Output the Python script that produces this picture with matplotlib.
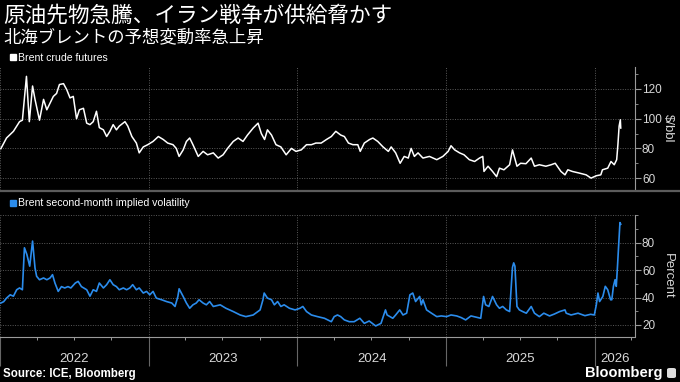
import matplotlib
matplotlib.use('Agg')
import matplotlib.pyplot as plt
import matplotlib.dates as mdates
import matplotlib.transforms as mtransforms
import pandas as pd
from matplotlib.lines import Line2D
from matplotlib.patches import FancyBboxPatch
from matplotlib.ticker import FixedLocator

plt.rcParams['font.family'] = ['Liberation Sans', 'DejaVu Sans']

title = '原油先物急騰、イラン戦争が供給脅かす'
subtitle = '北海ブレントの予想変動率急上昇'
price_label = 'Brent crude futures'
vol_label = 'Brent second-month implied volatility'
source = 'Source: ICE, Bloomberg'
years = ['2022', '2023', '2024', '2025', '2026']
price_ticks = [60, 80, 100, 120]
price_minor = [70, 90, 110, 130]
vol_ticks = [20, 40, 60, 80]
vol_minor = [30, 50, 70, 90, 100]

# Brent crude futures, $/bbl
price_dates = [
    '2022-01-03', '2022-01-17', '2022-02-03', '2022-02-18', '2022-02-25', '2022-03-07', '2022-03-14',
    '2022-03-22', '2022-03-28', '2022-04-08', '2022-04-18', '2022-04-26', '2022-05-04', '2022-05-12',
    '2022-05-20', '2022-05-27', '2022-06-06', '2022-06-14', '2022-06-22', '2022-06-30', '2022-07-08',
    '2022-07-15', '2022-07-25', '2022-08-02', '2022-08-10', '2022-08-18', '2022-08-26', '2022-09-02',
    '2022-09-12', '2022-09-20', '2022-09-28', '2022-10-06', '2022-10-14', '2022-10-21', '2022-11-04',
    '2022-11-11', '2022-11-21', '2022-12-02', '2022-12-09', '2022-12-19', '2022-12-30',
    '2023-01-12', '2023-01-25', '2023-02-06', '2023-02-17', '2023-03-02', '2023-03-10', '2023-03-17',
    '2023-03-27', '2023-04-04', '2023-04-12', '2023-04-20', '2023-05-03', '2023-05-15', '2023-05-26',
    '2023-06-09', '2023-06-21', '2023-07-03', '2023-07-14', '2023-07-28', '2023-08-09', '2023-08-21',
    '2023-09-01', '2023-09-15', '2023-09-27', '2023-10-05', '2023-10-13', '2023-10-20', '2023-10-30',
    '2023-11-10', '2023-11-22', '2023-12-05', '2023-12-18', '2023-12-29',
    '2024-01-11', '2024-01-24', '2024-02-05', '2024-02-16', '2024-02-29', '2024-03-13', '2024-03-25',
    '2024-04-05', '2024-04-12', '2024-04-17', '2024-04-26', '2024-05-06', '2024-05-17', '2024-05-29',
    '2024-06-04', '2024-06-14', '2024-06-27', '2024-07-05', '2024-07-17', '2024-07-30', '2024-08-12',
    '2024-08-19', '2024-08-30', '2024-09-10', '2024-09-20', '2024-09-30', '2024-10-07', '2024-10-15',
    '2024-10-24', '2024-11-05', '2024-11-21', '2024-12-09', '2024-12-24',
    '2025-01-06', '2025-01-13', '2025-01-22', '2025-02-03', '2025-02-14', '2025-02-27', '2025-03-12',
    '2025-03-24', '2025-04-01', '2025-04-04', '2025-04-14', '2025-04-25', '2025-05-05', '2025-05-12',
    '2025-05-23', '2025-06-06', '2025-06-13', '2025-06-24', '2025-07-03', '2025-07-16', '2025-07-29',
    '2025-08-06', '2025-08-18', '2025-09-03', '2025-09-16', '2025-09-26', '2025-10-10', '2025-10-20',
    '2025-10-27', '2025-11-07', '2025-11-24', '2025-12-11', '2025-12-23',
    '2026-01-05', '2026-01-16', '2026-01-20', '2026-02-02', '2026-02-10', '2026-02-18', '2026-02-24',
    '2026-02-27', '2026-03-02', '2026-03-05', '2026-03-06',
]
price_values = [
    79.8, 87, 91.5, 98, 99, 128.5, 98,
    122, 113, 99, 113, 106, 110.5, 115,
    117, 123, 123.6, 119.5, 114, 115, 100,
    106, 107, 97, 96, 98, 105, 94,
    92.5, 88, 91.5, 96, 92.5, 95, 98,
    95, 88, 83.6, 77, 81, 82.5,
    84.7, 88, 86, 83.6, 82.5, 80, 74.6,
    79, 84.7, 87, 82.5, 74.6, 78, 75.7,
    77, 73.5, 75.7, 80, 84.7, 87, 84.7,
    89, 93.7, 97, 90, 86, 92.5, 89,
    82.5, 81, 75.7, 80, 78,
    79, 82.5, 82.5, 83.6, 83.6, 86, 88,
    91.5, 90, 89, 88, 83.6, 82.5, 82.5,
    78, 83.6, 86, 87, 84.7, 81, 78,
    81, 77, 70, 74.6, 73.5, 80, 74.6,
    77, 73.5, 74.6, 72.4, 74.6,
    78, 81.8, 79, 77, 75.7, 72.4, 71.2,
    73.5, 74.6, 64.5, 68, 64.5, 61, 66.7,
    65.6, 69, 79, 68, 70, 69.7, 73.5,
    68, 69, 68, 69, 70, 64.5, 62.2,
    65.6, 64.5, 63.4, 62.2, 60,
    61.6, 62.2, 65.6, 66.7, 71.2, 69, 72.4,
    82.5, 95, 99.3, 93.7,
]

# Brent second-month implied volatility, percent
vol_dates = [
    '2022-01-03', '2022-01-10', '2022-01-17', '2022-01-26', '2022-02-03', '2022-02-11', '2022-02-18',
    '2022-02-25', '2022-03-02', '2022-03-08', '2022-03-15', '2022-03-22', '2022-03-28', '2022-04-01',
    '2022-04-08', '2022-04-18', '2022-04-26', '2022-05-04', '2022-05-10', '2022-05-16', '2022-05-24',
    '2022-06-01', '2022-06-09', '2022-06-17', '2022-06-24', '2022-07-05', '2022-07-12', '2022-07-20',
    '2022-08-02', '2022-08-10', '2022-08-18', '2022-08-26', '2022-09-02', '2022-09-12', '2022-09-20',
    '2022-09-28', '2022-10-06', '2022-10-14', '2022-10-21', '2022-10-31', '2022-11-08', '2022-11-16',
    '2022-11-23', '2022-12-02', '2022-12-09', '2022-12-19', '2022-12-27',
    '2023-01-04', '2023-01-12', '2023-01-20', '2023-02-02', '2023-02-14', '2023-02-27', '2023-03-07',
    '2023-03-14', '2023-03-17', '2023-03-27', '2023-04-04', '2023-04-12', '2023-04-20', '2023-04-28',
    '2023-05-05', '2023-05-15', '2023-05-23', '2023-05-31', '2023-06-09', '2023-06-26', '2023-07-10',
    '2023-07-28', '2023-08-14', '2023-08-28', '2023-09-15', '2023-10-02', '2023-10-09', '2023-10-12',
    '2023-10-20', '2023-10-30', '2023-11-06', '2023-11-14', '2023-11-22', '2023-11-30', '2023-12-13',
    '2023-12-27',
    '2024-01-08', '2024-01-15', '2024-01-24', '2024-02-05', '2024-02-20', '2024-03-08', '2024-03-25',
    '2024-04-01', '2024-04-09', '2024-04-17', '2024-04-26', '2024-05-08', '2024-05-20', '2024-06-03',
    '2024-06-14', '2024-06-26', '2024-07-12', '2024-07-25', '2024-08-05', '2024-08-09', '2024-08-23',
    '2024-08-30', '2024-09-09', '2024-09-17', '2024-09-26', '2024-10-04', '2024-10-11', '2024-10-18',
    '2024-10-28', '2024-11-01', '2024-11-05', '2024-11-14', '2024-11-26', '2024-12-09', '2024-12-20',
    '2025-01-02', '2025-01-13', '2025-01-27', '2025-02-07', '2025-02-18', '2025-03-03', '2025-03-17',
    '2025-03-27', '2025-04-03', '2025-04-08', '2025-04-16', '2025-04-25', '2025-05-05', '2025-05-12',
    '2025-05-20', '2025-05-29', '2025-06-06', '2025-06-13', '2025-06-16', '2025-06-19', '2025-06-24',
    '2025-06-30', '2025-07-08', '2025-07-17', '2025-07-29', '2025-08-06', '2025-08-18', '2025-08-29',
    '2025-09-12', '2025-09-24', '2025-10-07', '2025-10-20', '2025-10-23', '2025-11-04', '2025-11-21',
    '2025-12-08', '2025-12-22', '2025-12-31',
    '2026-01-05', '2026-01-09', '2026-01-13', '2026-01-21', '2026-01-27', '2026-02-02', '2026-02-09',
    '2026-02-12', '2026-02-16', '2026-02-20', '2026-02-23', '2026-02-26', '2026-03-02', '2026-03-04',
    '2026-03-06',
]
vol_values = [
    36, 37, 39.6, 42, 41, 45.7, 47,
    45.7, 76.3, 71.4, 62.9, 81.2, 61.6, 55.5,
    53, 54.3, 53, 54.3, 56.7, 50.6, 44.5,
    48, 47, 48, 47, 50.6, 51.8, 48,
    45.7, 41, 45.7, 44.5, 50.6, 47, 49.4,
    53, 49.4, 48, 45.7, 47, 45.7, 47,
    49.4, 45.7, 47, 43.3, 44.5,
    42, 44.5, 39.6, 38.4, 37.1, 36, 33.5,
    40.8, 46.4, 40.8, 36, 32.2, 34.7, 36,
    38.4, 36, 34.7, 37.1, 33.5, 34.7, 32.2,
    29.8, 27.3, 26.1, 27.3, 31, 38.4, 43.3,
    39.6, 38.4, 34.7, 37.1, 33.5, 34.7, 32.2,
    31,
    32.2, 33.5, 29.8, 27.3, 26.1, 24.9, 22.4,
    26.1, 27.3, 26.1, 23.7, 22.4, 22.4, 24.9,
    21.2, 22.9, 19.3, 21.2, 31, 27.3, 24.9,
    27.3, 31, 27.3, 28.6, 42, 43.3, 37.1,
    40.8, 34.7, 38.4, 31, 28.6, 26.1, 26.6,
    26.1, 27.3, 26.6, 25.4, 23.7, 26.6, 25.6,
    24.9, 40.8, 34.7, 33.5, 40.8, 34.7, 32.2,
    33.5, 31, 29.8, 62, 65.3, 62.9, 33.5,
    31, 29.8, 28.6, 33.5, 28.6, 26.1, 28.6,
    26.6, 28, 29.8, 31, 28.6, 27.3, 28.6,
    26.8, 27.8, 27.3,
    34.7, 43.3, 37.1, 40.8, 48.2, 45.7, 38.4,
    38.4, 48.2, 53, 48.2, 62.9, 84.9, 94.7,
    93.5,
]

price_x = pd.to_datetime(price_dates)
vol_x = pd.to_datetime(vol_dates)
x_start = pd.Timestamp('2022-01-01')
x_end = pd.Timestamp('2026-04-10')

bg = 'black'
grid_col = '#5a5a5a'
axis_col = '#9a9a9a'
text_col = '#d8d8d8'
blue = '#2b8cec'

fig = plt.figure(figsize=(6.8, 3.82), dpi=100, facecolor=bg)
W, H = 680.0, 382.0
ax1 = fig.add_axes([0, 1 - 190 / H, 635 / W, (190 - 66.7) / H])
ax2 = fig.add_axes([0, 1 - 336.5 / H, 635 / W, (336.5 - 215.3) / H])

ax1.plot(price_x, price_values, color='white', lw=1.1, solid_joinstyle='round')
ax2.plot(vol_x, vol_values, color=blue, lw=1.2, solid_joinstyle='round')

ax1.set_ylim(52, 135)
ax1.yaxis.set_major_locator(FixedLocator(price_ticks))
ax1.yaxis.set_minor_locator(FixedLocator(price_minor))
ax2.set_ylim(11.6, 100)
ax2.yaxis.set_major_locator(FixedLocator(vol_ticks))
ax2.yaxis.set_minor_locator(FixedLocator(vol_minor))

for ax in (ax1, ax2):
    ax.set_facecolor(bg)
    ax.set_xlim(x_start, x_end)
    for s in ('top', 'left', 'bottom'):
        ax.spines[s].set_visible(False)
    ax.spines['right'].set_color(axis_col)
    ax.spines['right'].set_linewidth(0.8)
    ax.yaxis.tick_right()
    ax.tick_params(axis='y', which='major', colors=axis_col, length=4, width=0.8,
                   labelcolor=text_col, labelsize=8.5, pad=1)
    ax.tick_params(axis='y', which='minor', colors=axis_col, length=2.5, width=0.6)
    ax.xaxis.set_major_locator(mdates.YearLocator())
    ax.grid(axis='y', which='major', color=grid_col, linestyle=(0, (1, 1.5)), lw=0.7)
    ax.grid(axis='x', which='major', color=grid_col, linestyle=(0, (1, 1.5)), lw=0.7)
    ax.set_axisbelow(True)

# dotted line at the top of the vol panel
ax2.axhline(100, color=grid_col, linestyle=(0, (1, 1.5)), lw=0.7, zorder=0)

ax1.tick_params(axis='x', length=0, labelbottom=False)

ax2.spines['bottom'].set_visible(True)
ax2.spines['bottom'].set_color(axis_col)
ax2.spines['bottom'].set_linewidth(0.8)
ax2.xaxis.set_minor_locator(mdates.MonthLocator(bymonth=(4, 7, 10)))
ax2.tick_params(axis='x', which='major', length=21, width=0.8, colors='#666666', labelbottom=False)
ax2.tick_params(axis='x', which='minor', length=2.5, width=0.7, colors=axis_col)

ax1.set_ylabel('$/bbl', color=text_col, fontsize=9.5, rotation=270, va='center')
ax1.yaxis.set_label_position('right')
ax1.yaxis.set_label_coords(673.5 / 635, 0.5)
ax2.set_ylabel('Percent', color=text_col, fontsize=9.5, rotation=270, va='center')
ax2.yaxis.set_label_position('right')
ax2.yaxis.set_label_coords(673.5 / 635, 0.5)

# year labels centred in the visible part of each year
trans = mtransforms.blended_transform_factory(ax2.transData, ax2.transAxes)
for yr in years:
    a = max(pd.Timestamp(yr + '-01-01'), x_start)
    b = min(pd.Timestamp(str(int(yr) + 1) + '-01-01'), x_end)
    mid = a + (b - a) / 2
    ax2.text(mid, -0.186, yr, transform=trans, ha='center', va='center',
             color=text_col, fontsize=9.5)

# legends
h1 = Line2D([], [], marker='s', linestyle='none', color='white', markersize=5)
ax1.legend([h1], [price_label], loc='center left', bbox_to_anchor=(3 / W, 1 - 58 / H),
           bbox_transform=fig.transFigure, frameon=False, handletextpad=0.1, borderpad=0,
           handlelength=0.8, labelcolor='white', prop={'size': 7.6})
h2 = Line2D([], [], marker='s', linestyle='none', color=blue, markersize=5)
ax2.legend([h2], [vol_label], loc='center left', bbox_to_anchor=(3 / W, 1 - 203.5 / H),
           bbox_transform=fig.transFigure, frameon=False, handletextpad=0.1, borderpad=0,
           handlelength=0.8, labelcolor='white', prop={'size': 7.6})

# separator between panels
fig.add_artist(Line2D([0, 1], [1 - 191 / H, 1 - 191 / H], transform=fig.transFigure,
                      color='#5c5c5c', lw=1.6))

fig.text(3 / W, 1 - 16 / H, title, color='white', fontsize=15.6, va='center', ha='left',
         family=['Noto Sans CJK JP', 'DejaVu Sans'])
fig.text(3 / W, 1 - 37 / H, subtitle, color='white', fontsize=12.5, va='center', ha='left',
         family=['Noto Sans CJK JP', 'DejaVu Sans'])

fig.text(3 / W, 1 - 374 / H, source, color='white', fontsize=8.3, fontweight='bold',
         va='center', ha='left')
fig.text(662 / W, 1 - 373 / H, 'Bloomberg', color='white', fontsize=10.5, fontweight='bold',
         va='center', ha='right')
fig.add_artist(FancyBboxPatch((667 / W, 1 - 378 / H), 9 / W, 10 / H,
                              boxstyle='round,pad=0,rounding_size=0.004',
                              transform=fig.transFigure, facecolor='#dddddd', edgecolor='none'))

fig.savefig('out.png', dpi=100, facecolor=bg)
